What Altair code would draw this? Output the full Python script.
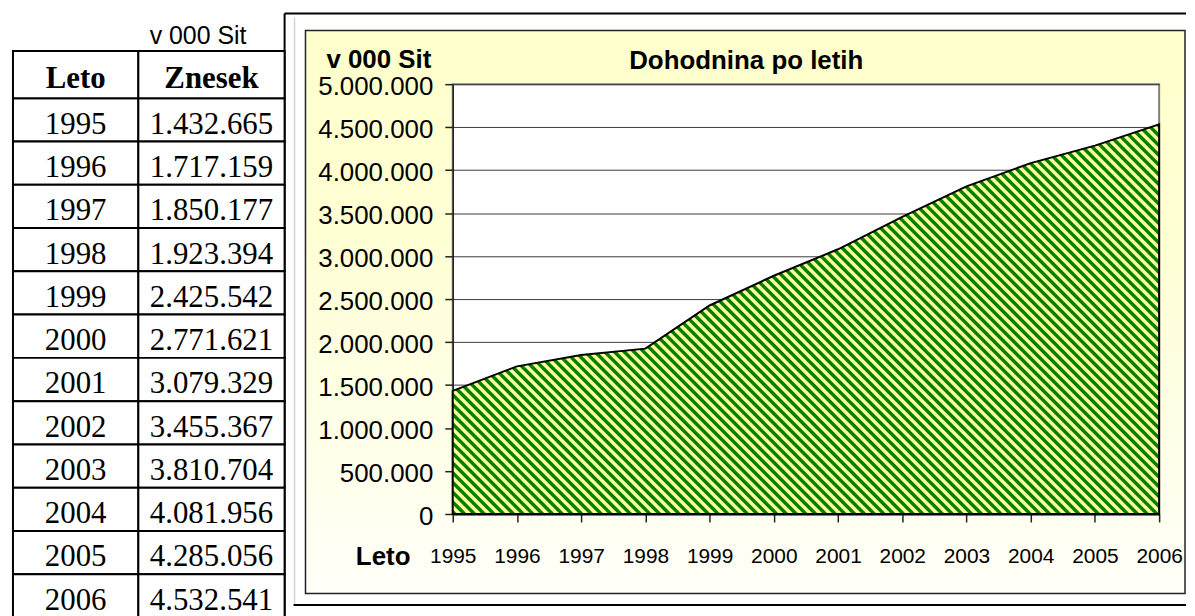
import altair as alt
import pandas as pd

# ---------------- data ----------------
years = [1995, 1996, 1997, 1998, 1999, 2000, 2001, 2002, 2003, 2004, 2005, 2006]
amounts = [1432665, 1717159, 1850177, 1923394, 2425542, 2771621,
           3079329, 3455367, 3810704, 4081956, 4285056, 4532541]
y_ticks = [0, 500000, 1000000, 1500000, 2000000, 2500000,
           3000000, 3500000, 4000000, 4500000, 5000000]
table_header = ["Leto", "Znesek"]
unit_label = "v 000 Sit"
chart_title = "Dohodnina po letih"
x_title = "Leto"
y_title = "v 000 Sit"


def fmt(v):
    return f"{v:,}".replace(",", ".")


df = pd.DataFrame({
    "Leto": years,
    "Znesek": amounts,
    "LetoTxt": [str(y) for y in years],
    "ZnesekTxt": [fmt(v) for v in amounts],
})
one = pd.DataFrame({"k": [0]})

# ---------------- styles ----------------
SANS = "'Liberation Sans', Arial, sans-serif"
SERIF = "'Liberation Serif', 'Times New Roman', serif"
GREEN = "#008000"
YEL = "#FFFF99"

PW, PH = 710, 432
Y_MAX = 5000000

# diagonal hatch built as a many-stop linear gradient (objectBoundingBox units)
H = PH * max(amounts) / Y_MAX
r = H / PW
k = (1 + r) / (1 + r * r)
PERIOD = 9.8
N = (PW + H) / PERIOD
stops = []
i = 0
while True:
    done = False
    for off, col in [(0.05, GREEN), (0.40, GREEN), (0.55, YEL), (0.90, YEL)]:
        t = (i + off) / N
        if t > 1:
            done = True
            break
        stops.append(alt.GradientStop(offset=t, color=col))
    if done:
        break
    i += 1
hatch = alt.Gradient(gradient="linear", stops=stops, x1=0, y1=1, x2=k, y2=1 - k * r)

bg_grad = alt.Gradient(
    gradient="linear",
    stops=[alt.GradientStop(offset=0, color="#FFFFCC"),
           alt.GradientStop(offset=0.35, color="#FFFFD4"),
           alt.GradientStop(offset=1, color="#FFFFF8")],
    x1=0, y1=0, x2=0, y2=1,
)

# ---------------- table ----------------
ROW_RANGE = [14.2, 536.0]
HDR_TOP, HDR_BOT = -33.3, 14.2
row_y = alt.Y("Leto:O", scale=alt.Scale(range=ROW_RANGE, paddingInner=0, paddingOuter=0),
              axis=None, sort=None)


def table_column(text_field, header, cell_w, view_w, extra_before=None, extra_after=None):
    hdr_df = pd.DataFrame({"h": [header]})
    hdr_rect = alt.Chart(hdr_df).mark_rect(fill="white", stroke="black", strokeWidth=2).encode(
        x=alt.value(0), x2=alt.value(cell_w), y=alt.value(HDR_TOP), y2=alt.value(HDR_BOT))
    hdr_text = alt.Chart(hdr_df).mark_text(
        font=SERIF, fontSize=31, fontWeight="bold", color="black",
        align="center", baseline="alphabetic").encode(
        text="h:N", x=alt.value(cell_w / 2), y=alt.value(4.3))
    cells = alt.Chart(df).mark_rect(fill="white", stroke="black", strokeWidth=2).encode(
        x=alt.value(0), x2=alt.value(cell_w), y=row_y)
    texts = alt.Chart(df).mark_text(
        font=SERIF, fontSize=31, color="black", align="center",
        baseline="alphabetic", dy=14).encode(
        text=f"{text_field}:N", x=alt.value(cell_w / 2), y=row_y)
    layers = (extra_before or []) + [cells, texts, hdr_rect, hdr_text] + (extra_after or [])
    return alt.layer(*layers).properties(width=view_w, height=PH)


# frame / chart-area decoration (drawn before the plot group)
frame_white = alt.Chart(one).mark_rect(fill="white").encode(
    x=alt.value(147), x2=alt.value(1053), y=alt.value(-71), y2=alt.value(524))
frame_grey = alt.Chart(one).mark_rule(color="#d4d4d4", strokeWidth=1.5).encode(
    x=alt.value(157), y=alt.value(-67), y2=alt.value(523))
frame_yellow = alt.Chart(one).mark_rect(fill=bg_grad, stroke="#222222", strokeWidth=1.5).encode(
    x=alt.value(168), x2=alt.value(1052), y=alt.value(-54), y2=alt.value(512))
frame_top = alt.Chart(one).mark_rule(color="black", strokeWidth=2).encode(
    x=alt.value(147), x2=alt.value(1053), y=alt.value(-71))
frame_left = alt.Chart(one).mark_rule(color="black", strokeWidth=2).encode(
    x=alt.value(147), y=alt.value(-71), y2=alt.value(535))
frame_bottom = alt.Chart(one).mark_rule(color="black", strokeWidth=2).encode(
    x=alt.value(156), x2=alt.value(1053), y=alt.value(523.5))

unit_df = pd.DataFrame({"u": [unit_label]})
unit_text = alt.Chart(unit_df).mark_text(
    font=SANS, fontSize=25, color="black", align="center", baseline="alphabetic").encode(
    text="u:N", x=alt.value(60), y=alt.value(-40))

col1 = table_column("LetoTxt", table_header[0], 126, 126)
col2 = table_column("ZnesekTxt", table_header[1], 147, 147 + 169,
                    extra_before=[frame_white, frame_grey, frame_yellow,
                                  frame_top, frame_bottom, frame_left],
                    extra_after=[unit_text])

# ---------------- area chart ----------------
area = alt.Chart(df).mark_area(fill=hatch, stroke="black", strokeWidth=2, strokeJoin="miter").encode(
    x=alt.X("Leto:O", scale=alt.Scale(type="point", padding=0),
            axis=alt.Axis(title=x_title, titleX=-43, titleY=51, titleAlign="right",
                          titleBaseline="alphabetic", titleFont=SANS, titleFontSize=26,
                          titleFontWeight="bold", titleColor="black",
                          labelAngle=0, labelFont=SANS, labelFontSize=21, labelColor="black",
                          labelPadding=24, labelOverlap=False,
                          tickSize=8, tickColor="#222222", tickWidth=1.5,
                          domainColor="black", domainWidth=2, grid=False)),
    y=alt.Y("Znesek:Q", scale=alt.Scale(domain=[0, Y_MAX], nice=False, zero=True),
            axis=alt.Axis(values=y_ticks,
                          labelExpr="replace(format(datum.value, ','), regexp(',', 'g'), '.')",
                          title=y_title, titleAngle=0, titleX=-22, titleY=-17,
                          titleAlign="right", titleBaseline="alphabetic",
                          titleFont=SANS, titleFontSize=26, titleFontWeight="bold",
                          titleColor="black",
                          labelFont=SANS, labelFontSize=26, labelColor="black",
                          labelPadding=12, labelOffset=2.5, labelOverlap=False,
                          tickSize=8, tickColor="#222222", tickWidth=1.5,
                          domainColor="#222222", domainWidth=1.5,
                          grid=True, gridColor="#3a3a3a", gridWidth=1)),
)

title_df = pd.DataFrame({"t": [chart_title]})
title_text = alt.Chart(title_df).mark_text(
    font=SANS, fontSize=26, fontWeight="bold", color="black",
    align="center", baseline="alphabetic").encode(
    text="t:N", x=alt.value(295), y=alt.value(-15))

plot = alt.layer(area, title_text).properties(
    width=PW, height=PH,
    view=alt.ViewBackground(fill="white", stroke="#808080", strokeWidth=2),
)

chart = alt.hconcat(col1, col2, plot, spacing=0, bounds="flush").properties(
    padding={"left": 4, "top": 3, "right": 0, "bottom": 0},
    background="white",
).configure_view(strokeWidth=0)

chart.save("out.html", embed_options={"renderer": "svg", "actions": False})
